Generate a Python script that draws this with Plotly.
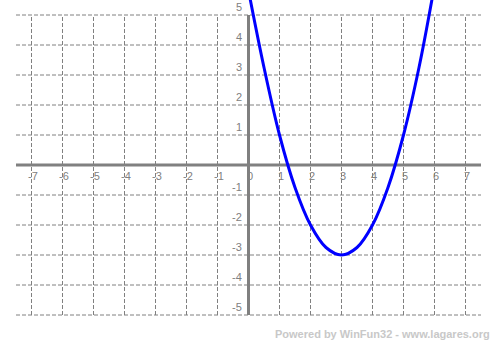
import plotly.graph_objects as go

# Curve points
curve_x = [0.05, 0.5, 1.0, 1.5, 2.0, 2.5, 3.0, 3.5, 4.0, 4.5, 5.0, 5.5, 5.95]
curve_y = [5.55, 3.25, 1.0, -0.75, -2.0, -2.75, -3.0, -2.75, -2.0, -0.75, 1.0, 3.25, 5.7]

x_ticks = [-7, -6, -5, -4, -3, -2, -1, 0, 1, 2, 3, 4, 5, 6, 7]
y_ticks = [-5, -4, -3, -2, -1, 1, 2, 3, 4, 5]

GRAY = "#808080"

fig = go.Figure()
fig.add_trace(go.Scatter(x=curve_x, y=curve_y, mode="lines",
                         line=dict(color="#0000FF", width=3, shape="spline"),
                         hoverinfo="skip", showlegend=False))

shapes = []
for yv in range(-5, 6):
    if yv == 0:
        continue
    shapes.append(dict(type="line", xref="x", yref="y", x0=-7.5, x1=7.5, y0=yv, y1=yv,
                       line=dict(color=GRAY, width=1, dash="4px,2px"), layer="below"))
for xv in range(-7, 8):
    if xv == 0:
        continue
    shapes.append(dict(type="line", xref="x", yref="y", x0=xv, x1=xv, y0=-5, y1=5,
                       line=dict(color=GRAY, width=1, dash="4px,2px"), layer="below"))
shapes.append(dict(type="line", xref="x", yref="y", x0=-7.5, x1=7.5, y0=0, y1=0,
                   line=dict(color=GRAY, width=3), layer="below"))
shapes.append(dict(type="line", xref="x", yref="y", x0=0, x1=0, y0=-5, y1=5,
                   line=dict(color=GRAY, width=3), layer="below"))

annotations = []
for t in x_ticks:
    annotations.append(dict(x=t, y=0, xref="x", yref="y", text=str(t), showarrow=False,
                            xanchor="center", yanchor="middle", xshift=1, yshift=-11,
                            font=dict(family="Liberation Sans, Arial", size=11, color=GRAY)))
for t in y_ticks:
    annotations.append(dict(x=0, y=t, xref="x", yref="y", text=str(t), showarrow=False,
                            xanchor="right", yanchor="middle", xshift=-5, yshift=8,
                            font=dict(family="Liberation Sans, Arial", size=11, color=GRAY)))
annotations.append(dict(x=492 / 496, y=1 - 334 / 344, xref="paper", yref="paper",
                        text="<b>Powered by WinFun32 - www.lagares.org</b>",
                        showarrow=False, xanchor="right", yanchor="middle",
                        font=dict(family="Liberation Sans", size=11, color="#C8C8C8")))

fig.update_layout(
    width=496, height=344, margin=dict(l=0, r=0, t=0, b=0),
    paper_bgcolor="white", plot_bgcolor="white",
    xaxis=dict(range=[-248.5 / 31, (496 - 248.5) / 31], visible=False, fixedrange=True),
    yaxis=dict(range=[(165 - 344) / 30, 165 / 30], visible=False, fixedrange=True),
    shapes=shapes, annotations=annotations, showlegend=False,
)

fig.write_html("out.html")
